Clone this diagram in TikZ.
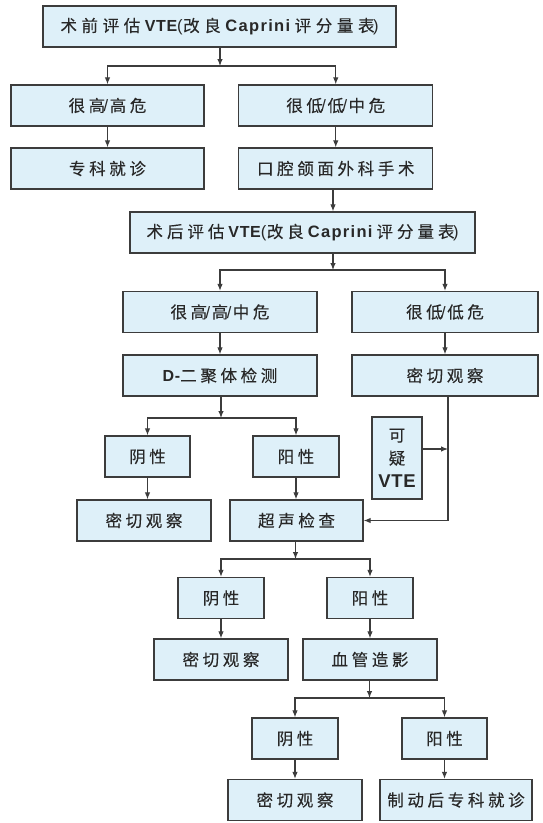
\documentclass[tikz,border=0pt]{standalone}
\usepackage{fontspec}
\setmainfont[LetterSpace=22,FakeBold=0.25]{Noto Sans CJK SC}
\newfontfamily\latv[LetterSpace=4]{Liberation Sans}
\newfontfamily\latc[LetterSpace=8]{Liberation Sans}
\newfontfamily\lats{Liberation Sans}
\newcommand{\myvte}{{\latv\bfseries\fontsize{16}{23}\selectfont VTE}}
\newcommand{\mycap}{{\latc\bfseries\fontsize{16.5}{23}\selectfont Caprini}}
\newcommand{\mydd}{{\latv\bfseries\fontsize{16}{23}\selectfont D-}}
\newcommand{\sls}{\kern-1.5pt{\lats /}\kern1.5pt}
\newcommand{\lpar}{{\lats (}\kern0.5pt}
\newcommand{\rpar}{\kern-1.5pt{\lats )}}
\usetikzlibrary{arrows.meta}
\definecolor{boxfill}{RGB}{222,240,249}
\definecolor{boxline}{RGB}{60,60,60}
\definecolor{txt}{RGB}{40,40,40}
\tikzset{
  box/.style={draw=boxline, line width=1.3pt, fill=boxfill, minimum height=41pt,
    inner sep=0pt, font=\fontsize{16.5}{23}\selectfont, text=txt, align=center},
  arr/.style={draw=boxline, line width=1.1pt, -{Latex[length=7pt,width=5.5pt]}},
}
\begin{document}
\begin{tikzpicture}[x=1pt,y=-1pt]
\useasboundingbox (0,0) rectangle (542,823);
\fill[white] (0,0) rectangle (542,823);
% nodes
\node[box, minimum width=353pt] (a) at (219.5,26.5) {\hbox to 318pt{术\hfil 前\hfil 评\hfil 估\hfil\myvte\lpar 改\hfil 良\hfil\mycap\hfil 评\hfil 分\hfil 量\hfil 表\rpar}};
\node[box, minimum width=193pt] (b1) at (107.5,105.5) {很高\sls 高危};
\node[box, minimum width=194pt] (b2) at (335.75,105.5) {很低\sls 低\sls 中危};
\node[box, minimum width=193pt] (c1) at (107.5,168.5) {专科就诊};
\node[box, minimum width=194pt] (c2) at (335.75,168.5) {口腔颌面外科手术};
\node[box, minimum width=345pt] (d) at (302.5,232.5) {\hbox to 312pt{术\hfil 后\hfil 评\hfil 估\hfil\myvte\lpar 改\hfil 良\hfil\mycap\hfil 评\hfil 分\hfil 量\hfil 表\rpar}};
\node[box, minimum width=194pt] (e1) at (220,312) {很高\sls 高\sls 中危};
\node[box, minimum width=186pt] (e2) at (445,312) {很低\sls 低危};
\node[box, minimum width=194pt] (f1) at (220,375.5) {\mydd 二聚体检测};
\node[box, minimum width=186pt] (f2) at (445,375.5) {密切观察};
\node[box, minimum width=85pt] (g1) at (147.5,456.5) {阴性};
\node[box, minimum width=86pt] (g2) at (296,456.5) {阳性};
\node[box, minimum width=134pt] (h1) at (144,520.5) {密切观察};
\node[box, minimum width=133pt] (h2) at (296.5,520.5) {超声检查};
\node[box, minimum width=50pt, minimum height=82pt] (s) at (397,458) {可\\疑\\{\latv\bfseries\fontsize{18.5}{23}\selectfont VTE}};
\node[box, minimum width=86pt] (i1) at (221,598) {阴性};
\node[box, minimum width=86pt] (i2) at (370,598) {阳性};
\node[box, minimum width=134pt] (j1) at (221,659.5) {密切观察};
\node[box, minimum width=134pt] (j2) at (370,659.5) {血管造影};
\node[box, minimum width=86pt] (k1) at (295,738.5) {阴性};
\node[box, minimum width=85pt] (k2) at (444.5,738.5) {阳性};
\node[box, minimum width=134pt] (l1) at (295,800) {密切观察};
\node[box, minimum width=152pt] (l2) at (456,800) {制动后专科就诊};
% junction coordinates
\coordinate (ja) at (220,66);
\coordinate (jd) at (333,270);
\coordinate (jf) at (221,418);
\coordinate (jh) at (295.5,559);
\coordinate (jj) at (369.5,698);
\coordinate (fr) at (448,520.5);
\coordinate (sr) at (448,449);
% connectors
\draw[arr] (ja |- a.south) -- (ja);
\draw[arr] (ja) -| (b1.north);
\draw[arr] (ja) -| (b2.north);
\draw[arr] (b1) -- (c1);
\draw[arr] (b2) -- (c2);
\draw[arr] (jd |- c2.south) -- (jd |- d.north);
\draw[arr] (jd |- d.south) -- (jd);
\draw[arr] (jd) -| (e1.north);
\draw[arr] (jd) -| (e2.north);
\draw[arr] (e1) -- (f1);
\draw[arr] (e2) -- (f2);
\draw[arr] (jf |- f1.south) -- (jf);
\draw[arr] (jf) -| (g1.north);
\draw[arr] (jf) -| (g2.north);
\draw[arr] (g1.south) -- (g1.south |- h1.north);
\draw[arr] (g2.south) -- (g2.south |- h2.north);
\draw[arr] (fr |- f2.south) -- (fr) -- (h2.east);
\draw[arr] (sr -| s.east) -- (sr);
\draw[arr] (jh |- h2.south) -- (jh);
\draw[arr] (jh) -| (i1.north);
\draw[arr] (jh) -| (i2.north);
\draw[arr] (i1) -- (j1);
\draw[arr] (i2) -- (j2);
\draw[arr] (jj |- j2.south) -- (jj);
\draw[arr] (jj) -| (k1.north);
\draw[arr] (jj) -| (k2.north);
\draw[arr] (k1) -- (l1);
\draw[arr] (k2.south) -- (k2.south |- l2.north);
\end{tikzpicture}
\end{document}
